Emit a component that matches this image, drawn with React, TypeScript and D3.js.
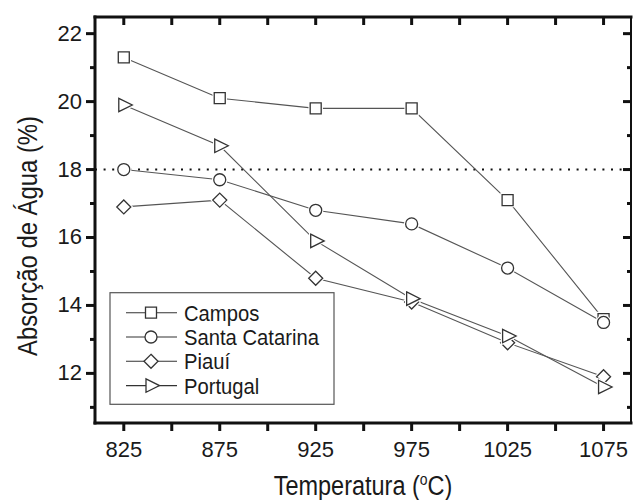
import React, { useRef, useEffect } from "react";
import * as d3 from "d3";

// values
const temperatures = [825, 875, 925, 975, 1025, 1075];
const campos = [21.3, 20.1, 19.8, 19.8, 17.1, 13.6];
const santaCatarina = [18.0, 17.7, 16.8, 16.4, 15.1, 13.5];
const piaui = [16.9, 17.1, 14.8, 14.1, 12.9, 11.9];
const portugal = [19.9, 18.7, 15.9, 14.2, 13.1, 11.6];
const seriesNames = ["Campos", "Santa Catarina", "Piauí", "Portugal"];
const xTicks = [825, 875, 925, 975, 1025, 1075];
const xMinorTicks = [850, 900, 950, 1000, 1050];
const yTicks = [12, 14, 16, 18, 20, 22];
const yMinorTicks = [11, 13, 15, 17, 19, 21];
const referenceLevel = 18;

const width = 633;
const height = 500;
const margin = { left: 95, right: 2, top: 17, bottom: 77 };
const font = "'Liberation Sans', Arial, Helvetica, sans-serif";
const ink = "#1a1a1a";

const markerPaths: string[] = [
  "M-5.5,-5.5h11v11h-11z",
  "M6,0A6,6 0 1,1 -6,0A6,6 0 1,1 6,0Z",
  "M0,-7L7,0L0,7L-7,0Z",
  "M-5,-6.7L8.5,0L-5,6.7Z",
];

function App() {
  const svgRef = useRef<SVGSVGElement | null>(null);

  useEffect(() => {
    const svg = d3.select(svgRef.current);
    svg.selectAll("*").remove();

    const x0 = margin.left;
    const x1 = width - margin.right;
    const y0 = height - margin.bottom;
    const y1 = margin.top;

    const xScale = d3.scaleLinear().domain([810, 1089.3]).range([x0, x1]);
    const yScale = d3.scaleLinear().domain([10.54, 22.49]).range([y0, y1]);

    const allSeries = [campos, santaCatarina, piaui, portugal];

    // dotted reference line
    svg
      .append("line")
      .attr("x1", x0)
      .attr("x2", x1)
      .attr("y1", yScale(referenceLevel))
      .attr("y2", yScale(referenceLevel))
      .attr("stroke", "#111")
      .attr("stroke-width", 2)
      .attr("stroke-dasharray", "2,6.6");

    // series lines
    const myLine = d3
      .line<number>()
      .x((v, i) => xScale(temperatures[i]))
      .y((v) => yScale(v));

    svg
      .selectAll(".series-line")
      .data(allSeries)
      .join("path")
      .attr("class", "series-line")
      .attr("d", (d) => myLine(d))
      .attr("fill", "none")
      .attr("stroke", "#555")
      .attr("stroke-width", 1.1);

    // markers (with a white halo so lines stop short)
    allSeries.forEach((values, s) => {
      const g = svg.append("g");
      values.forEach((v, i) => {
        const tr = `translate(${xScale(temperatures[i])},${yScale(v)})`;
        g.append("path")
          .attr("d", markerPaths[s])
          .attr("transform", tr)
          .attr("fill", "white")
          .attr("stroke", "white")
          .attr("stroke-width", 3.5);
        g.append("path")
          .attr("d", markerPaths[s])
          .attr("transform", tr)
          .attr("fill", "white")
          .attr("stroke", "#333")
          .attr("stroke-width", 1.3);
      });
    });

    // frame
    const frame = svg.append("g").attr("stroke", "#111").attr("stroke-linecap", "square");
    frame.append("line").attr("x1", x0).attr("x2", x1).attr("y1", y1).attr("y2", y1).attr("stroke-width", 3);
    frame.append("line").attr("x1", x0).attr("x2", x1).attr("y1", y0).attr("y2", y0).attr("stroke-width", 3);
    frame.append("line").attr("x1", x0).attr("x2", x0).attr("y1", y1).attr("y2", y0).attr("stroke-width", 3);
    frame.append("line").attr("x1", x1).attr("x2", x1).attr("y1", y1).attr("y2", y0).attr("stroke-width", 2);

    // x ticks: bottom outward, top inward
    const xAll = [...xTicks, ...xMinorTicks];
    frame
      .selectAll(".xb")
      .data(xAll)
      .join("line")
      .attr("class", "xb")
      .attr("x1", (d) => xScale(d))
      .attr("x2", (d) => xScale(d))
      .attr("y1", y0)
      .attr("y2", y0 + 8)
      .attr("stroke-width", 3)
      .attr("stroke-linecap", "butt");
    frame
      .selectAll(".xt")
      .data(xAll)
      .join("line")
      .attr("class", "xt")
      .attr("x1", (d) => xScale(d))
      .attr("x2", (d) => xScale(d))
      .attr("y1", y1)
      .attr("y2", y1 + 8)
      .attr("stroke-width", 3)
      .attr("stroke-linecap", "butt");

    // y ticks: left outward, right inward
    const yAll = [
      ...yTicks.map((v) => ({ v, len: 9 })),
      ...yMinorTicks.map((v) => ({ v, len: 5 })),
    ];
    frame
      .selectAll(".yl")
      .data(yAll)
      .join("line")
      .attr("class", "yl")
      .attr("x1", x0)
      .attr("x2", (d) => x0 - d.len)
      .attr("y1", (d) => yScale(d.v))
      .attr("y2", (d) => yScale(d.v))
      .attr("stroke-width", 3)
      .attr("stroke-linecap", "butt");
    frame
      .selectAll(".yr")
      .data(yAll)
      .join("line")
      .attr("class", "yr")
      .attr("x1", x1)
      .attr("x2", (d) => x1 - d.len + 1)
      .attr("y1", (d) => yScale(d.v))
      .attr("y2", (d) => yScale(d.v))
      .attr("stroke-width", 3)
      .attr("stroke-linecap", "butt");

    // tick labels
    svg
      .selectAll(".xl")
      .data(xTicks)
      .join("text")
      .attr("class", "xl")
      .attr("x", (d) => xScale(d))
      .attr("y", y0 + 34)
      .attr("text-anchor", "middle")
      .attr("font-family", font)
      .attr("font-size", 22)
      .attr("fill", ink)
      .text((d) => d);

    svg
      .selectAll(".ylab")
      .data(yTicks)
      .join("text")
      .attr("class", "ylab")
      .attr("x", x0 - 13)
      .attr("y", (d) => yScale(d) + 7)
      .attr("text-anchor", "end")
      .attr("font-family", font)
      .attr("font-size", 22)
      .attr("fill", ink)
      .text((d) => d);

    // axis titles
    const xTitle = svg
      .append("text")
      .attr("transform", `translate(${(x0 + x1) / 2},495) scale(0.87,1)`)
      .attr("text-anchor", "middle")
      .attr("font-family", font)
      .attr("font-size", 27)
      .attr("fill", ink);
    xTitle.append("tspan").text("Temperatura (");
    xTitle.append("tspan").attr("font-size", 16).attr("dy", -10).text("o");
    xTitle.append("tspan").attr("dy", 10).text("C)");

    svg
      .append("text")
      .attr("transform", `translate(36.5,236) rotate(-90)`)
      .attr("text-anchor", "middle")
      .attr("font-family", font)
      .attr("font-size", 27)
      .attr("textLength", 240)
      .attr("lengthAdjust", "spacingAndGlyphs")
      .attr("fill", ink)
      .text("Absorção de Água (%)");

    // legend
    const legend = svg.append("g");
    legend
      .append("rect")
      .attr("x", 110)
      .attr("y", 292.7)
      .attr("width", 224)
      .attr("height", 111.6)
      .attr("fill", "white")
      .attr("stroke", "#555")
      .attr("stroke-width", 1.2);

    seriesNames.forEach((name, s) => {
      const ry = 312.7 + s * 24.3;
      legend
        .append("line")
        .attr("x1", 126)
        .attr("x2", 177)
        .attr("y1", ry)
        .attr("y2", ry)
        .attr("stroke", "#333")
        .attr("stroke-width", 1.1);
      legend
        .append("path")
        .attr("d", markerPaths[s])
        .attr("transform", `translate(151,${ry})`)
        .attr("fill", "white")
        .attr("stroke", "#333")
        .attr("stroke-width", 1.3);
      legend
        .append("text")
        .attr("transform", `translate(184,${ry + 8}) scale(0.92,1)`)
        .attr("font-family", font)
        .attr("font-size", 22)
        .attr("fill", ink)
        .text(name);
    });
  }, []);

  return (
    <div style={{ position: "absolute", left: 0, top: 0 }}>
      <svg ref={svgRef} width={width} height={height} style={{ display: "block", background: "white" }} />
    </div>
  );
}

export default App;
